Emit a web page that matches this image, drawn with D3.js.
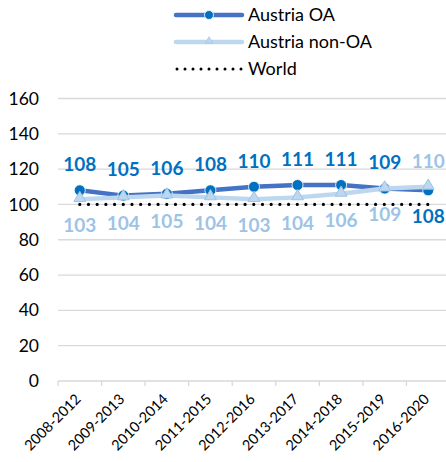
<!DOCTYPE html>
<html>
<head>
<meta charset="utf-8">
<script src="https://cdn.jsdelivr.net/npm/d3@7"></script>
<style>
  html, body { margin: 0; padding: 0; background: #fff; }
  svg { display: block; font-family: Lato, "Open Sans", sans-serif; }
</style>
</head>
<body>
<svg id="chart" width="446" height="462"></svg>
<script>
// Periods (5-year windows)
const periods = ["2008-2012", "2009-2013", "2010-2014", "2011-2015", "2012-2016",
                 "2013-2017", "2014-2018", "2015-2019", "2016-2020"];
// Series values
const austriaOA    = [108, 105, 106, 108, 110, 111, 111, 109, 108];
const austriaNonOA = [103, 104, 105, 104, 103, 104, 106, 109, 110];
const world        = [100, 100, 100, 100, 100, 100, 100, 100, 100];
// Axis ticks
const yTicks = [0, 20, 40, 60, 80, 100, 120, 140, 160];
const seriesNames = ["Austria OA", "Austria non-OA", "World"];

const svg = d3.select("#chart");
const plot = { left: 58, right: 450, top: 98.5, bottom: 381 };

const x = d3.scaleBand().domain(periods).range([plot.left, plot.right]);
const y = d3.scaleLinear().domain([0, 160]).range([plot.bottom, plot.top]);
const cx = d => x(d) + x.bandwidth() / 2;

// Horizontal gridlines
svg.append("g")
  .selectAll("line")
  .data(yTicks.filter(t => t > 0))
  .join("line")
  .attr("x1", plot.left).attr("x2", plot.right)
  .attr("y1", d => y(d)).attr("y2", d => y(d))
  .attr("stroke", "#d9d9d9").attr("stroke-width", 1.3);

// Y axis labels
const yAxis = d3.axisLeft(y).tickValues(yTicks).tickSize(0).tickPadding(19);
svg.append("g")
  .attr("transform", `translate(${plot.left},0)`)
  .call(yAxis)
  .call(g => g.select(".domain").remove())
  .call(g => g.selectAll("text")
    .attr("font-family", "Lato, sans-serif")
    .attr("font-size", 17.5)
    .attr("fill", "#000"));

// X axis with tick marks on category boundaries
svg.append("line")
  .attr("x1", plot.left).attr("x2", plot.right)
  .attr("y1", plot.bottom).attr("y2", plot.bottom)
  .attr("stroke", "#d9d9d9").attr("stroke-width", 1.3);
svg.append("g")
  .selectAll("line")
  .data(periods)
  .join("line")
  .attr("x1", d => x(d)).attr("x2", d => x(d))
  .attr("y1", plot.bottom).attr("y2", plot.bottom + 5)
  .attr("stroke", "#d9d9d9").attr("stroke-width", 1.3);

svg.append("g")
  .selectAll("text")
  .data(periods)
  .join("text")
  .attr("transform", d => `translate(${cx(d) + 2},${plot.bottom + 19}) rotate(-45)`)
  .attr("text-anchor", "end")
  .attr("font-size", 14.5)
  .attr("fill", "#000")
  .text(d => d);

const line = d3.line().x((d, i) => cx(periods[i])).y(d => y(d));

// Austria OA
svg.append("path")
  .datum(austriaOA)
  .attr("d", line)
  .attr("fill", "none")
  .attr("stroke", "#4472c4")
  .attr("stroke-width", 4.5)
  .attr("stroke-linejoin", "round");
svg.append("g")
  .selectAll("circle")
  .data(austriaOA)
  .join("circle")
  .attr("cx", (d, i) => cx(periods[i]))
  .attr("cy", d => y(d))
  .attr("r", 5.5)
  .attr("fill", "#0070c0")
  .attr("stroke", "#ffffff")
  .attr("stroke-width", 0.8);

// Austria non-OA
const tri = d3.symbol().type(d3.symbolTriangle).size(60);
svg.append("path")
  .datum(austriaNonOA)
  .attr("d", line)
  .attr("fill", "none")
  .attr("stroke", "#bdd7ee")
  .attr("stroke-width", 4.5)
  .attr("stroke-linejoin", "round");
svg.append("g")
  .selectAll("path")
  .data(austriaNonOA)
  .join("path")
  .attr("d", tri)
  .attr("transform", (d, i) => `translate(${cx(periods[i])},${y(d) - 1})`)
  .attr("fill", "#bdd7ee")
  .attr("stroke", "#9dc3e6")
  .attr("stroke-width", 1);

// World reference line
svg.append("path")
  .datum(world)
  .attr("d", line)
  .attr("fill", "none")
  .attr("stroke", "#000")
  .attr("stroke-width", 3.2)
  .attr("stroke-linecap", "round")
  .attr("stroke-dasharray", "0 8.7");

// Data labels: higher series above its point, lower series below
const labelFont = 19;
function addLabels(values, other, color) {
  svg.append("g")
    .selectAll("text")
    .data(values)
    .join("text")
    .attr("x", (d, i) => cx(periods[i]))
    .attr("y", (d, i) => y(d) + (d >= other[i] ? -26 : 26))
    .attr("dy", "0.36em")
    .attr("text-anchor", "middle")
    .attr("font-weight", 700)
    .attr("font-size", labelFont)
    .attr("fill", color)
    .text(d => d);
}
addLabels(austriaOA, austriaNonOA, "#0070c0");
addLabels(austriaNonOA, austriaOA.map(v => v + 0.5), "#9dc3e6");

// Legend
const legend = svg.append("g");
const rows = [15, 42, 69];
const lx1 = 176, lx2 = 242;
seriesNames.forEach((name, i) => {
  const ly = rows[i];
  const g = legend.append("g");
  if (i === 0) {
    g.append("line").attr("x1", lx1).attr("x2", lx2).attr("y1", ly).attr("y2", ly)
      .attr("stroke", "#4472c4").attr("stroke-width", 4.5).attr("stroke-linecap", "round");
    g.append("circle").attr("cx", (lx1 + lx2) / 2).attr("cy", ly).attr("r", 4.5)
      .attr("fill", "#0070c0").attr("stroke", "#fff").attr("stroke-width", 0.8);
  } else if (i === 1) {
    g.append("line").attr("x1", lx1).attr("x2", lx2).attr("y1", ly).attr("y2", ly)
      .attr("stroke", "#bdd7ee").attr("stroke-width", 4.5).attr("stroke-linecap", "round");
    g.append("path").attr("d", d3.symbol().type(d3.symbolTriangle).size(25))
      .attr("transform", `translate(${(lx1 + lx2) / 2},${ly - 1})`)
      .attr("fill", "#bdd7ee").attr("stroke", "#9dc3e6").attr("stroke-width", 0.6);
  } else {
    g.append("line").attr("x1", lx1 + 1).attr("x2", lx2).attr("y1", ly).attr("y2", ly)
      .attr("stroke", "#000").attr("stroke-width", 3).attr("stroke-linecap", "round")
      .attr("stroke-dasharray", "0 8");
  }
  g.append("text")
    .attr("x", 248).attr("y", ly).attr("dy", "0.36em")
    .attr("font-size", 18)
    .attr("fill", "#000")
    .text(name);
});
</script>
</body>
</html>
